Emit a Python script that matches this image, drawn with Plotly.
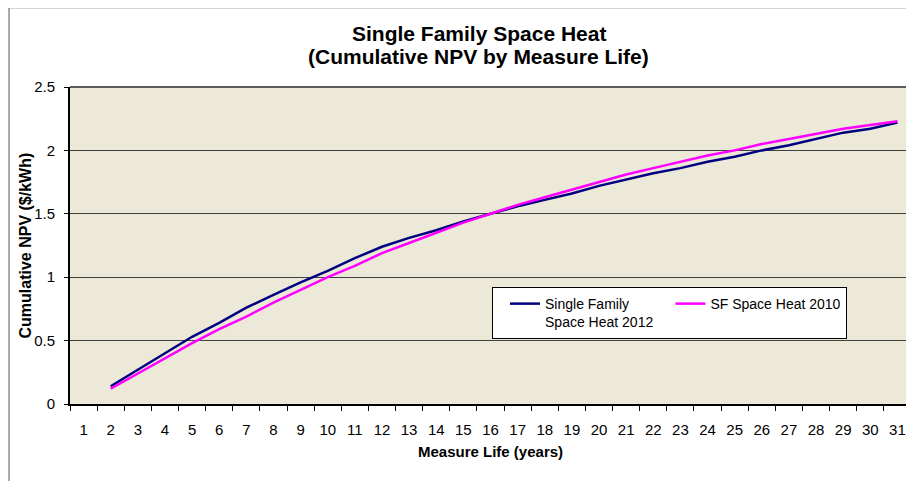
import plotly.graph_objects as go

# Category labels for the measure life axis (years)
years = [str(i) for i in range(1, 32)]
series_years = [str(i) for i in range(2, 32)]

# Cumulative NPV ($/kWh)
sf_space_heat_2012 = [0.14, 0.27, 0.40, 0.53, 0.64, 0.76, 0.86, 0.96, 1.05, 1.15,
                      1.24, 1.31, 1.37, 1.44, 1.50, 1.56, 1.61, 1.66, 1.72, 1.77,
                      1.82, 1.86, 1.91, 1.95, 2.00, 2.04, 2.09, 2.14, 2.17, 2.22]
sf_space_heat_2010 = [0.12, 0.24, 0.36, 0.48, 0.59, 0.69, 0.80, 0.90, 1.00, 1.09,
                      1.19, 1.27, 1.35, 1.43, 1.50, 1.57, 1.63, 1.69, 1.75, 1.81,
                      1.86, 1.91, 1.96, 2.00, 2.05, 2.09, 2.13, 2.17, 2.20, 2.23]

y_ticks = [0, 0.5, 1, 1.5, 2, 2.5]
y_labels = ["0", "0.5", "1", "1.5", "2", "2.5"]

FONT = "Arial, Liberation Sans, sans-serif"

fig = go.Figure()

fig.add_trace(go.Scatter(
    x=series_years,
    y=sf_space_heat_2012,
    mode='lines',
    name='Single Family<br>Space Heat 2012',
    line=dict(color="#000080", width=2.5)
))

fig.add_trace(go.Scatter(
    x=series_years,
    y=sf_space_heat_2010,
    mode='lines',
    name='SF Space Heat 2010',
    line=dict(color="#FF00FF", width=2.5)
))

# page body has an 8px margin, so the figure is sized/offset for that
fig.update_layout(
    width=906,
    height=473,
    margin=dict(l=62, r=3, t=79, b=77),
    paper_bgcolor="white",
    plot_bgcolor="#ECE9D8",
    font=dict(family=FONT, size=14, color="black"),
    showlegend=True,
    legend=dict(
        orientation="h",
        x=0.5018, y=0.369, xanchor="left", yanchor="top",
        bgcolor="white", bordercolor="black", borderwidth=1,
        font=dict(family=FONT, size=14, color="black"),
        indentation=12,
        valign="top",
    ),
    xaxis=dict(
        type="category",
        categoryorder="array",
        categoryarray=years,
        range=[-0.5, 30.5],
        tickson="boundaries",
        ticks="outside", ticklen=5, tickcolor="black", tickwidth=1,
        ticklabelstandoff=11,
        showgrid=False,
        showline=True, linecolor="black", linewidth=2,
        tickfont=dict(size=15),
    ),
    yaxis=dict(
        range=[0, 2.5],
        tickvals=y_ticks, ticktext=y_labels,
        ticks="outside", ticklen=4, tickcolor="black", tickwidth=1,
        ticklabelstandoff=6,
        showgrid=True, gridcolor="#404040", gridwidth=1,
        zeroline=False,
        showline=True, linecolor="black", linewidth=2,
        tickfont=dict(size=15),
    ),
    annotations=[
        dict(text="<b>Single Family Space Heat</b>",
             xref="paper", yref="paper", x=0.4863, y=1.17,
             xanchor="center", yanchor="middle", showarrow=False,
             font=dict(size=21, family=FONT)),
        dict(text="<b>(Cumulative NPV by Measure Life)</b>",
             xref="paper", yref="paper", x=0.4863, y=1.0975,
             xanchor="center", yanchor="middle", showarrow=False,
             font=dict(size=21, family=FONT)),
        dict(text="<b>Measure Life (years)</b>",
             xref="paper", yref="paper", x=0.5, y=-0.15,
             xanchor="center", yanchor="middle", showarrow=False,
             font=dict(size=15, family=FONT)),
        dict(text="<b>Cumulative NPV ($/kWh)</b>",
             xref="paper", yref="paper", x=-0.0535, y=0.5, textangle=-90,
             xanchor="center", yanchor="middle", showarrow=False,
             font=dict(size=16, family=FONT)),
    ],
    shapes=[
        # outer chart frame
        dict(type="rect", xref="paper", yref="paper",
             x0=-0.0725, x1=1.3, y0=-0.6, y1=1.25,
             line=dict(color="#555555", width=1), layer="below"),
        # top and right edges of plot area
        dict(type="line", xref="paper", yref="paper", x0=0, x1=1, y0=1, y1=1,
             line=dict(color="#5a5a5a", width=2)),
        dict(type="line", xref="paper", yref="paper", x0=1, x1=1, y0=0, y1=1,
             line=dict(color="#5a5a5a", width=2)),
    ],
)

fig.write_html("out.html")
